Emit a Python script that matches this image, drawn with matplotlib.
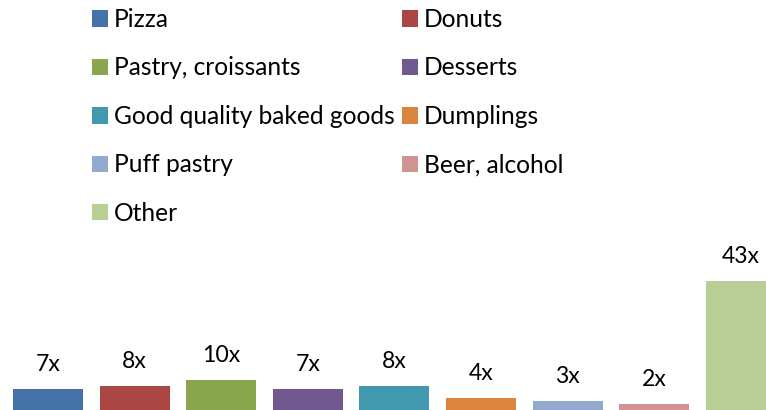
import matplotlib.pyplot as plt
from matplotlib.patches import Patch

categories = ["Pizza", "Donuts", "Pastry, croissants", "Desserts",
              "Good quality baked goods", "Dumplings", "Puff pastry",
              "Beer, alcohol", "Other"]
counts = [7, 8, 10, 7, 8, 4, 3, 2, 43]
labels = ["7x", "8x", "10x", "7x", "8x", "4x", "3x", "2x", "43x"]
colors = ["#4572A7", "#AA4643", "#89A54E", "#71588F", "#4198AF",
          "#DB843D", "#93A9CF", "#D19392", "#B9CD96"]

plt.rcParams["font.family"] = ["Lato", "DejaVu Sans"]

fig = plt.figure(figsize=(766 / 72, 410 / 72), dpi=72)
ax = fig.add_axes([0, 0, 1, 1])

x = list(range(len(counts)))
bars = ax.bar(x, counts, width=0.808, color=colors)

for xi, v, lab in zip(x, counts, labels):
    ax.annotate(lab, xy=(xi, v), xytext=(0, 25), textcoords="offset points",
                ha="center", va="center", fontsize=23, color="#000000")

ax.set_xlim(-0.554, 8.29)
ax.set_ylim(0, 136.7)
ax.axis("off")

# legend, row-major order like the original
order = [0, 2, 4, 6, 8, 1, 3, 5, 7]
handles = [Patch(facecolor=colors[i], edgecolor="none") for i in order]
names = [categories[i] for i in order]
fig.legend(handles, names, ncol=2, loc="upper left",
           bbox_to_anchor=(92 / 766, 1 - 8 / 410), frameon=False,
           fontsize=24.5, borderpad=0, handlelength=0.65, handleheight=0.65,
           handletextpad=0.25, columnspacing=0.3, labelspacing=1.04,
           borderaxespad=0)

fig.savefig("out.png", dpi=72)
